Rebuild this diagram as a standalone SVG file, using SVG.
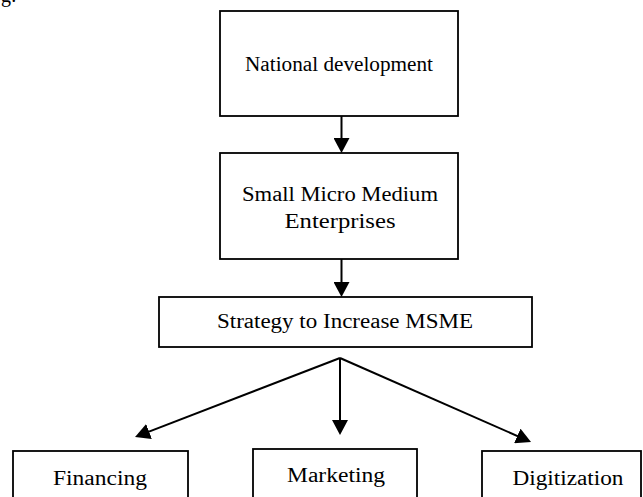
<svg xmlns="http://www.w3.org/2000/svg" width="643" height="497" viewBox="0 0 643 497">
  <style>
    .box { fill: #ffffff; stroke: #000000; stroke-width: 1.8; }
    .label { font-family: "Liberation Serif", "DejaVu Serif", serif; font-size: 20px; fill: #000000; text-anchor: middle; }
    .edge { stroke: #000000; stroke-width: 2; fill: none; marker-end: url(#arrow); }
  </style>
  <defs>
    <marker id="arrow" markerUnits="userSpaceOnUse" markerWidth="15" markerHeight="16" viewBox="0 0 15 16" refX="7" refY="8" orient="auto">
      <path d="M0,0 L15,8 L0,16 Z" fill="#000000"/>
    </marker>
  </defs>
  <rect width="643" height="497" fill="#ffffff"/>

  <!-- running text fragment at the page edge -->
  <text class="label" x="1" y="2" style="text-anchor:start">g:</text>

  <g id="national-development">
    <rect class="box" x="220" y="11" width="238" height="105"/>
    <text class="label" x="339" y="71" textLength="188" lengthAdjust="spacingAndGlyphs">National development</text>
  </g>

  <g id="msme">
    <rect class="box" x="220" y="153" width="238" height="106"/>
    <text class="label" x="340" y="201" textLength="196" lengthAdjust="spacingAndGlyphs">Small Micro Medium</text>
    <text class="label" x="340" y="228" textLength="111" lengthAdjust="spacingAndGlyphs">Enterprises</text>
  </g>

  <g id="strategy">
    <rect class="box" x="159" y="297" width="373" height="50"/>
    <text class="label" x="345" y="328" textLength="256" lengthAdjust="spacingAndGlyphs">Strategy to Increase MSME</text>
  </g>

  <g id="financing">
    <rect class="box" x="13" y="451" width="175" height="70"/>
    <text class="label" x="100" y="485" textLength="94" lengthAdjust="spacingAndGlyphs">Financing</text>
  </g>

  <g id="marketing">
    <rect class="box" x="253" y="449" width="164" height="70"/>
    <text class="label" x="336" y="482" textLength="98" lengthAdjust="spacingAndGlyphs">Marketing</text>
  </g>

  <g id="digitization">
    <rect class="box" x="482" y="451" width="159" height="70"/>
    <text class="label" x="568" y="485" textLength="111" lengthAdjust="spacingAndGlyphs">Digitization</text>
  </g>

  <g id="connectors">
    <line class="edge" x1="341.5" y1="116" x2="341.5" y2="145"/>
    <line class="edge" x1="341.5" y1="259" x2="341.5" y2="289"/>
    <line class="edge" x1="340" y1="358" x2="142.5" y2="434.1"/>
    <line class="edge" x1="340" y1="358" x2="340" y2="427"/>
    <line class="edge" x1="340" y1="358" x2="523.7" y2="438.8"/>
  </g>
</svg>
